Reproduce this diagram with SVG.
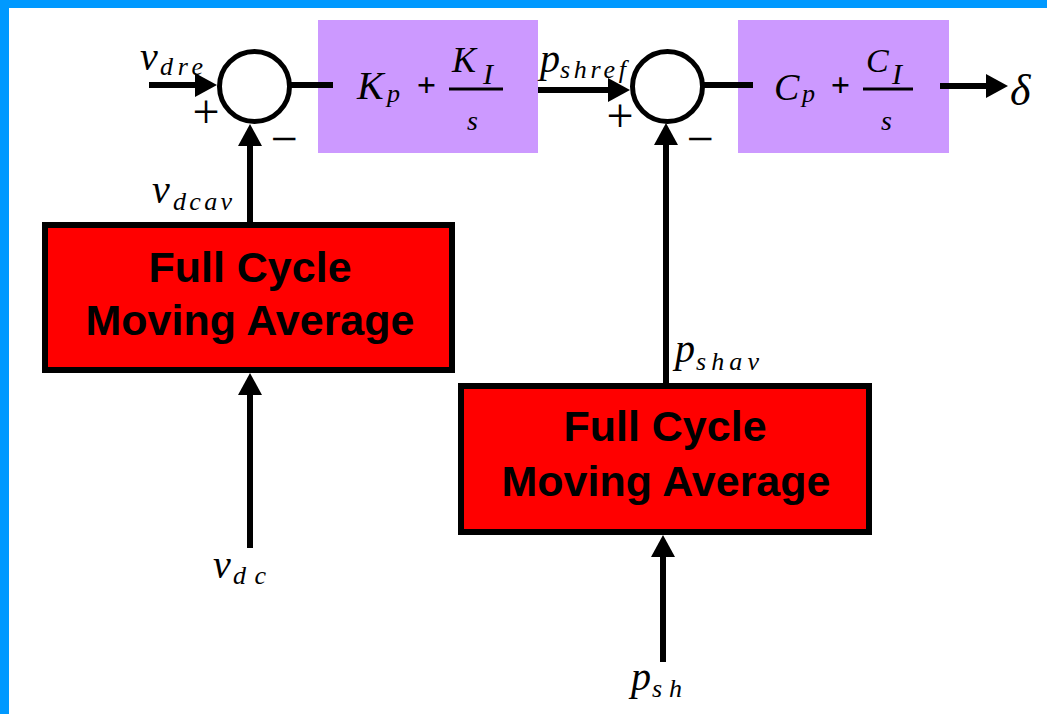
<svg xmlns="http://www.w3.org/2000/svg" width="1047" height="714" viewBox="0 0 1047 714">
<style>
.m{font-family:"Liberation Serif","DejaVu Serif",serif;font-style:italic;fill:#000}
.r{font-family:"Liberation Serif","DejaVu Serif",serif;fill:#000}
.b{font-family:"Liberation Sans",Arial,sans-serif;font-weight:bold;font-size:43px;fill:#000;text-anchor:middle}
.sum{fill:#fff;stroke:#000;stroke-width:5}
.pi{fill:#CC99FF}
.avg{fill:#FF0000;stroke:#000;stroke-width:6}
.c{fill:none;stroke:#000;stroke-width:6}
.ca{fill:none;stroke:#000;stroke-width:6;marker-end:url(#ah)}
</style>
<defs>
<marker id="ah" viewBox="0 0 22 24" refX="12" refY="12" markerWidth="22" markerHeight="24" markerUnits="userSpaceOnUse" orient="auto">
<path d="M0,0 L22,12 L0,24 Z" fill="#000"/>
</marker>
</defs>
<rect x="0" y="0" width="1047" height="714" fill="#fff"/>
<rect x="0" y="0" width="1047" height="8" fill="#0099FF"/>
<rect x="0" y="0" width="9" height="714" fill="#0099FF"/>

<g id="pi1">
<rect class="pi" x="318" y="20" width="220" height="133"/>
<text class="m" x="357" y="99" font-size="40">K</text>
<text class="m" x="387" y="102" font-size="26">p</text>
<text class="r" x="426.5" y="96" font-size="34" text-anchor="middle" font-weight="bold">+</text>
<rect x="449" y="87.5" width="54" height="3" fill="#000"/>
<text class="m" x="452" y="72" font-size="36">K</text>
<text class="m" x="483" y="84" font-size="30">I</text>
<text class="m" x="467" y="130" font-size="28">s</text>
</g>

<g id="pi2">
<rect class="pi" x="738" y="20" width="211" height="133"/>
<text class="m" x="774" y="100" font-size="38">C</text>
<text class="m" x="802" y="102" font-size="26">p</text>
<text class="r" x="840.5" y="96" font-size="34" text-anchor="middle" font-weight="bold">+</text>
<rect x="863" y="87.5" width="50" height="3" fill="#000"/>
<text class="m" x="866" y="72" font-size="34">C</text>
<text class="m" x="892" y="84" font-size="30">I</text>
<text class="m" x="881" y="130" font-size="28">s</text>
</g>

<g id="mavg1">
<rect class="avg" x="45" y="225" width="407" height="145"/>
<text class="b" x="250" y="282">Full Cycle</text>
<text class="b" x="250" y="335">Moving Average</text>
</g>

<g id="mavg2">
<rect class="avg" x="461" y="386" width="408" height="146"/>
<text class="b" x="665" y="441">Full Cycle</text>
<text class="b" x="666" y="496">Moving Average</text>
</g>

<g id="connectors">
<path class="ca" d="M149,85 H207"/>
<path class="c" d="M290,85 H333"/>
<path class="ca" d="M538,90 H620"/>
<path class="c" d="M703,85 H753"/>
<path class="ca" d="M940,86 H998"/>
<path class="ca" d="M250,222 V134"/>
<path class="ca" d="M250,548 V383"/>
<path class="ca" d="M666,383 V133"/>
<path class="ca" d="M663,662 V545"/>
</g>

<g id="sum1">
<circle class="sum" cx="254.5" cy="86.5" r="35"/>
<text class="r" x="206" y="128" font-size="48" text-anchor="middle">+</text>
<text class="r" x="284" y="155" font-size="48" text-anchor="middle">−</text>
</g>

<g id="sum2">
<circle class="sum" cx="667.5" cy="86.5" r="35"/>
<text class="r" x="620" y="131.5" font-size="48" text-anchor="middle">+</text>
<text class="r" x="700" y="155" font-size="48" text-anchor="middle">−</text>
</g>

<g id="labels">
<text class="m"><tspan x="140" y="70" font-size="40">v</tspan><tspan x="160" y="75" font-size="26" textLength="43" lengthAdjust="spacing">dre</tspan></text>
<text class="m"><tspan x="152" y="203" font-size="40">v</tspan><tspan x="173" y="210" font-size="26" textLength="59" lengthAdjust="spacing">dcav</tspan></text>
<text class="m"><tspan x="213" y="578" font-size="40">v</tspan><tspan x="233" y="584" font-size="26" textLength="33" lengthAdjust="spacing">dc</tspan></text>
<text class="m"><tspan x="540" y="72" font-size="40">p</tspan><tspan x="560" y="78" font-size="26" textLength="66" lengthAdjust="spacing">shref</tspan></text>
<text class="m"><tspan x="675" y="362" font-size="40">p</tspan><tspan x="696" y="370" font-size="26" textLength="63" lengthAdjust="spacing">shav</tspan></text>
<text class="m"><tspan x="631" y="690" font-size="40">p</tspan><tspan x="652" y="697" font-size="26" textLength="30" lengthAdjust="spacing">sh</tspan></text>
<text class="m" x="1010" y="105" font-size="44">δ</text>
</g>
</svg>
